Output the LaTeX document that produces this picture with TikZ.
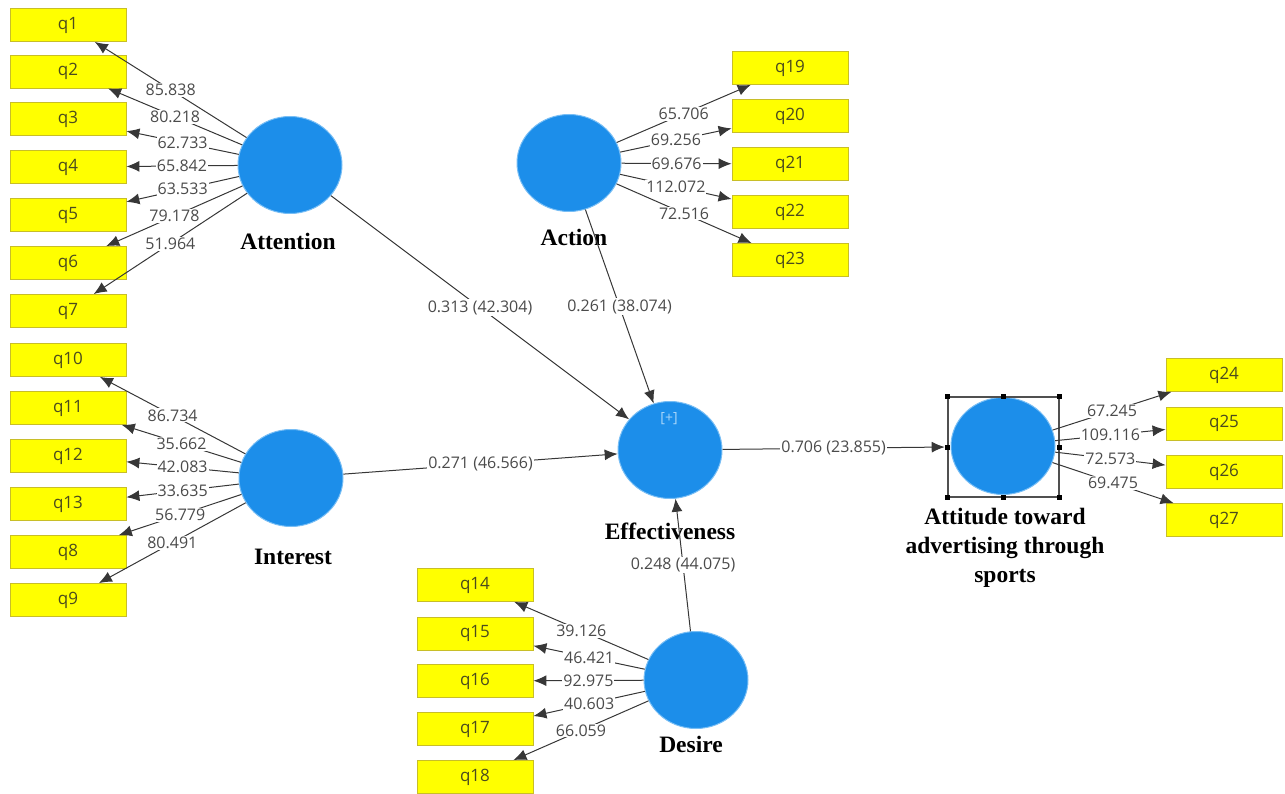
\documentclass[tikz,border=0pt]{standalone}
\usepackage{fontspec}
\setmainfont{Liberation Serif}
\newfontfamily\uifont{Open Sans}
\usetikzlibrary{arrows.meta,shapes.geometric}
\definecolor{boxy}{RGB}{255,255,0}
\definecolor{boxedge}{RGB}{200,190,40}
\definecolor{boxtxt}{RGB}{75,75,30}
\definecolor{lvblue}{RGB}{28,142,234}
\definecolor{lvedge}{RGB}{120,190,245}
\definecolor{linegray}{RGB}{55,55,55}
\definecolor{txtgray}{RGB}{75,75,75}
\definecolor{plusblue}{RGB}{170,215,250}
\definecolor{selgray}{RGB}{80,80,80}
\begin{document}
\begin{tikzpicture}[x=1pt,y=-1pt,
  ind/.style={draw=boxedge, fill=boxy, line width=0.8pt, minimum width=116pt, minimum height=33pt, inner sep=0pt, font=\uifont\fontsize{17}{20}\selectfont, text=boxtxt},
  lv/.style={ellipse, fill=lvblue, draw=lvedge, line width=1pt, minimum width=104pt, minimum height=97pt, inner sep=0pt},
  lvname/.style={font=\bfseries\fontsize{23.5}{29}\selectfont, align=center, inner sep=0pt},
  ld/.style={draw=linegray, line width=1pt, -{Latex[length=13pt,width=11pt]}},
  val/.style={fill=white, inner sep=1pt, text=txtgray, font=\uifont\fontsize{16}{18}\selectfont},
  handle/.style={fill=black, minimum size=5pt, inner sep=0pt}
]
\useasboundingbox (0,0) rectangle (1285,794);

% latent variables
\node[lv] (att) at (290,165) {};
\node[lv] (int) at (291,478) {};
\node[lv] (act) at (569,163) {};
\node[lv] (des) at (696,680) {};
\node[lv] (eff) at (670,450) {};
\node[lv] (atd) at (1003,446) {};
\node[text=plusblue, font=\uifont\fontsize{14}{15}\selectfont] (plus) at (669,419) {[+]};

% selection frame
\node[draw=selgray, line width=1.2pt, minimum width=111pt, minimum height=100pt, inner sep=0pt] (sel) at (1003.5,447) {};
\foreach \a/\n in {north west/nw, north/n, north east/ne, east/e, south east/se, south/s, south west/sw, west/w}
  \node[handle] (h\n) at (sel.\a) {};

% names
\node[lvname] (attL) at (288,241) {Attention};
\node[lvname] (intL) at (293,557) {Interest};
\node[lvname] (actL) at (574,237) {Action};
\node[lvname] (desL) at (691,744) {Desire};
\node[lvname] (effL) at (670,531) {Effectiveness};
\node[lvname] (atdL) at (1005,548) {Attitude toward\\advertising through\\sports};

% indicators Attention
\foreach \n/\y in {1/25,2/71.5,3/119,4/167,5/215,6/263,7/311}
  \node[ind] (q\n) at (68,\y) {q\n};
% Interest
\foreach \n/\y in {10/360,11/408,12/456,13/504,8/552,9/600}
  \node[ind] (q\n) at (68,\y) {q\n};
% Action
\foreach \n/\y in {19/68,20/116,21/164,22/212,23/260}
  \node[ind] (q\n) at (790,\y) {q\n};
% Desire
\foreach \n/\y in {14/585,15/633.5,16/681,17/729,18/777}
  \node[ind] (q\n) at (475,\y) {q\n};
% Attitude
\foreach \n/\y in {24/375,25/423.5,26/472,27/520}
  \node[ind] (q\n) at (1224,\y) {q\n};

% outer loadings
\foreach \q/\v in {1/85.838,2/80.218,3/62.733,4/65.842,5/63.533,6/79.178,7/51.964}
  \draw[ld] (att) -- node[val]{\v} (q\q);
\foreach \q/\v in {10/86.734,11/35.662,12/42.083,13/33.635,8/56.779,9/80.491}
  \draw[ld] (int) -- node[val]{\v} (q\q);
\foreach \q/\v in {19/65.706,20/69.256,21/69.676,22/112.072,23/72.516}
  \draw[ld] (act) -- node[val]{\v} (q\q);
\foreach \q/\v in {14/39.126,15/46.421,16/92.975,17/40.603,18/66.059}
  \draw[ld] (des) -- node[val]{\v} (q\q);
\foreach \q/\v in {24/67.245,25/109.116,26/72.573,27/69.475}
  \draw[ld] (atd) -- node[val]{\v} (q\q);

% structural paths
\draw[ld] (att) -- node[val]{0.313 (42.304)} (eff);
\draw[ld] (act) -- node[val]{0.261 (38.074)} (eff);
\draw[ld] (int) -- node[val]{0.271 (46.566)} (eff);
\draw[ld] (des) -- node[val]{0.248 (44.075)} (eff);
\draw[ld] (eff) -- node[val]{0.706 (23.855)} (hw);
\end{tikzpicture}
\end{document}
